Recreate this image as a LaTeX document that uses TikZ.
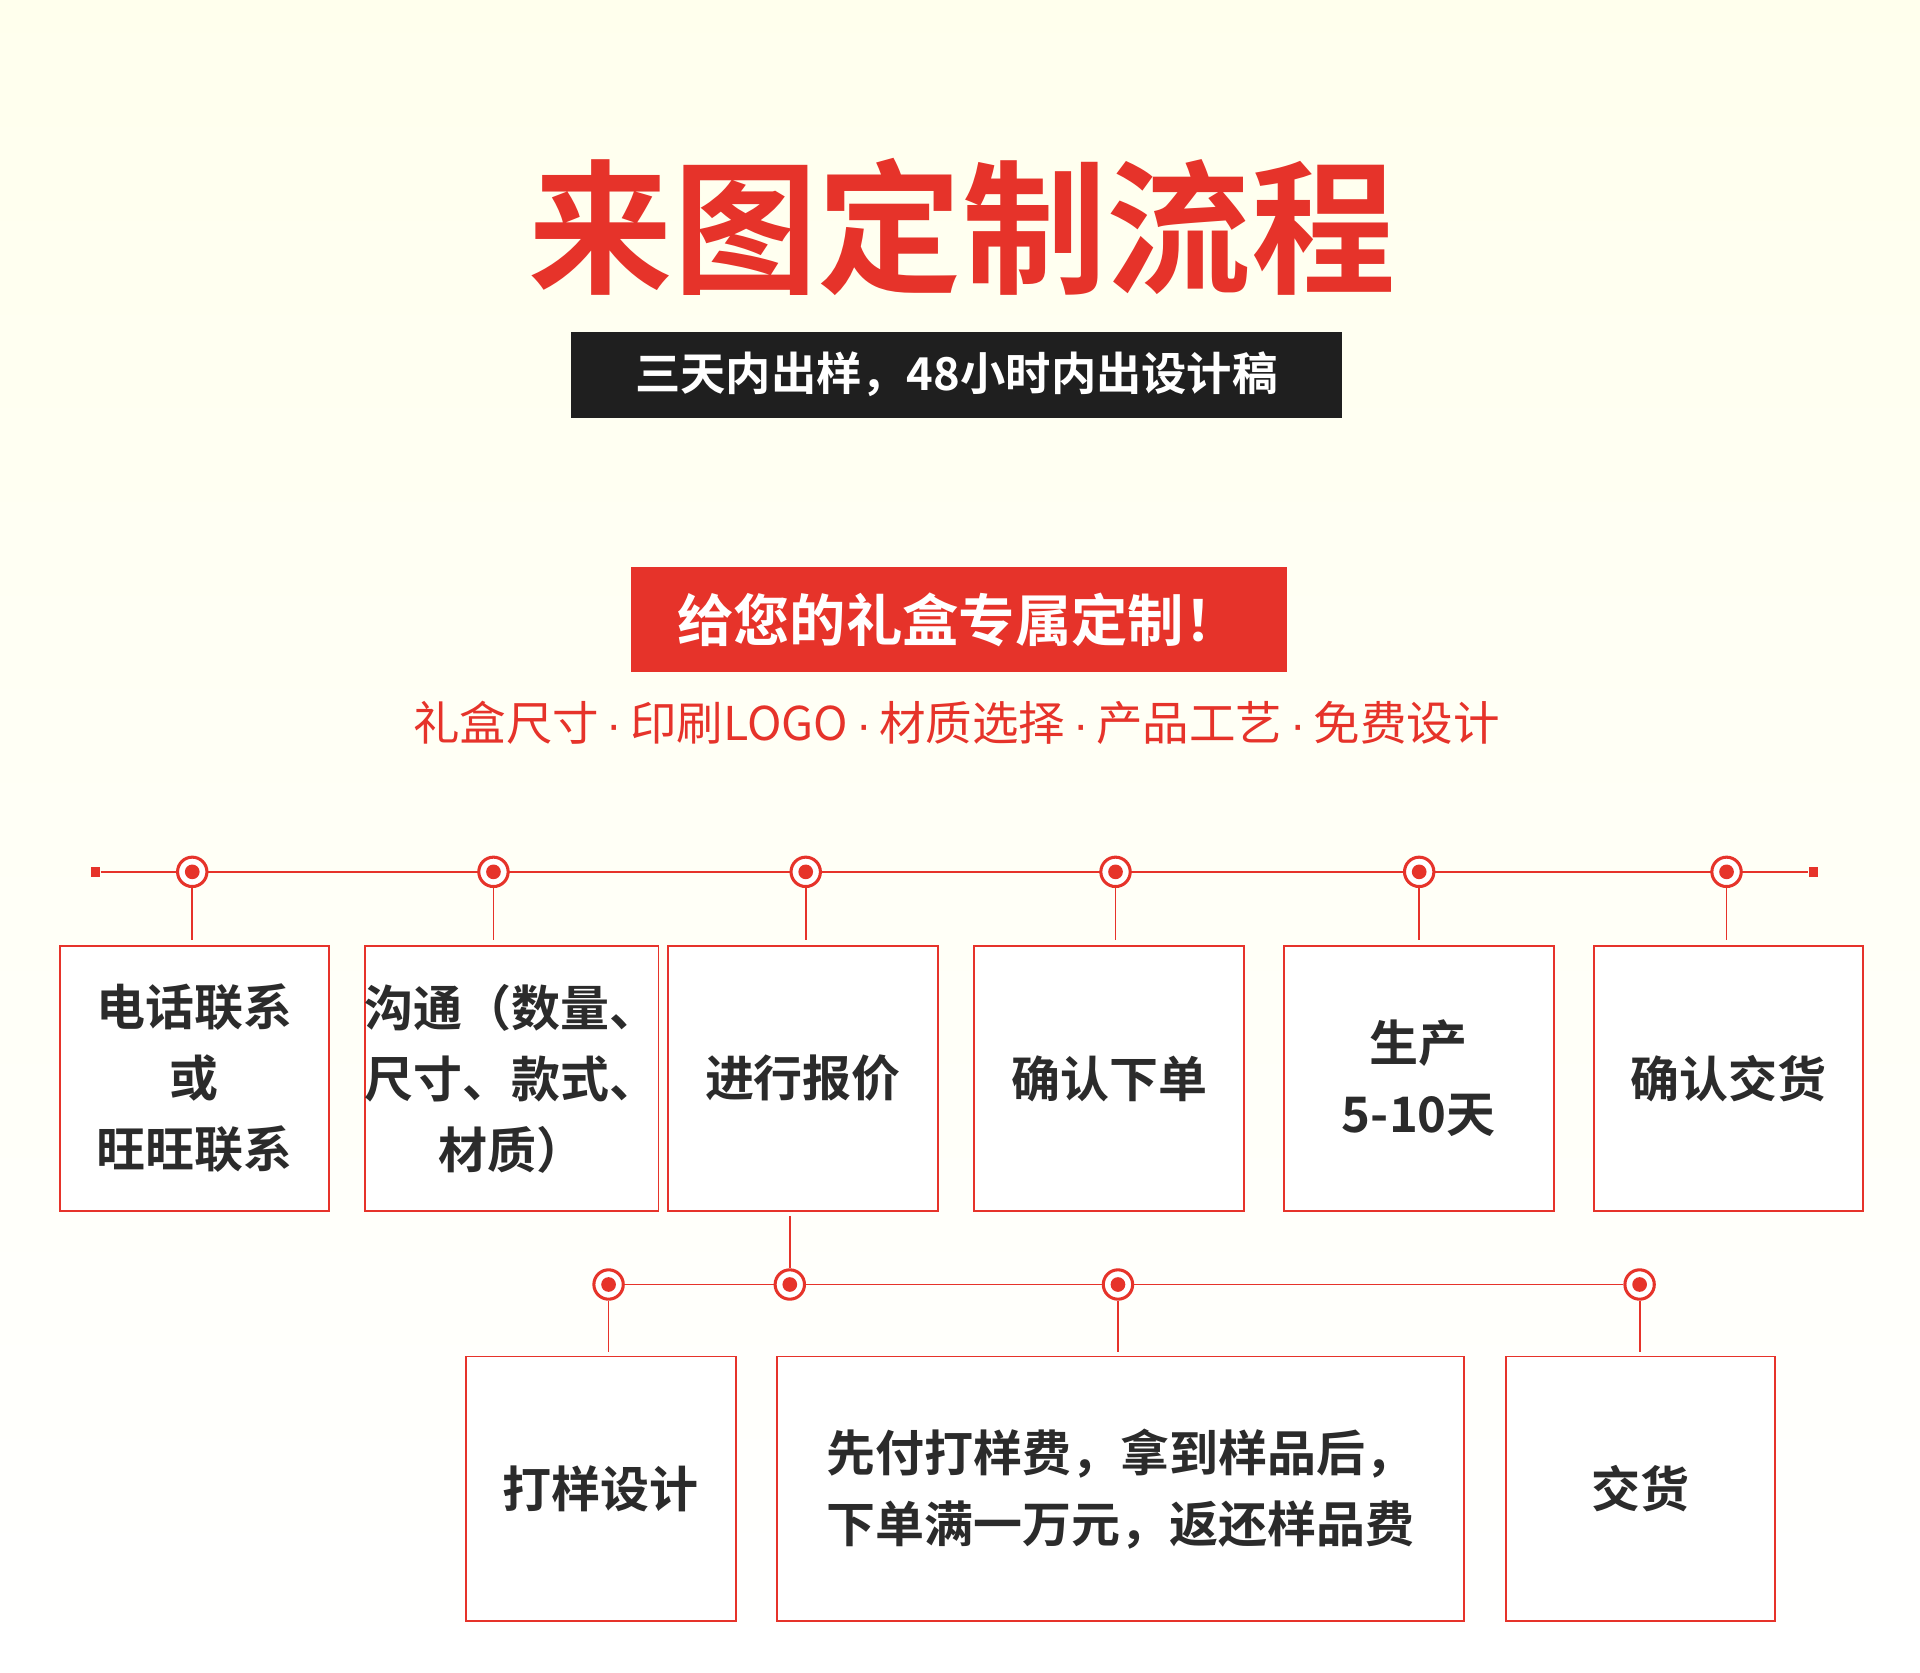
\documentclass[tikz,border=0pt]{standalone}
\usepackage{fontspec}
\newfontfamily\cjk{Noto Sans CJK SC}
\newfontfamily\cjkb{Noto Sans CJK SC Bold}
\newfontfamily\latn{Liberation Sans}
\newcommand{\md}{\,{\latn ·}\,}
\definecolor{myred}{HTML}{E6332A}
\definecolor{txt}{HTML}{2B2B2B}
\begin{document}
\begin{tikzpicture}[x=1pt,y=-1pt,
  box/.style={draw=myred,line width=1.5pt,fill=white,minimum width=220pt,minimum height=216pt,anchor=north west,inner sep=0pt,font=\cjkb\fontsize{40}{58}\selectfont,text=txt,align=center},
  ln/.style={draw=myred,line width=1.5pt},
  dot/.style={circle,draw=myred,line width=2.5pt,fill=white,minimum size=24pt,inner sep=0pt,path picture={\fill[myred] (path picture bounding box.center) circle (6pt);}},
  sq/.style={fill=myred,minimum size=8pt,inner sep=0pt}]
\shade[top color=yellow!7,bottom color=white] (0,0) rectangle (1568,1366);
\useasboundingbox (0,0) rectangle (1568,1366);
\node[text=myred,font=\cjkb\fontsize{118}{120}\selectfont] (title) at (786,185) {来图定制流程};
\node[fill=black!88,minimum width=630pt,minimum height=70pt,text=white,font=\cjkb\fontsize{37}{40}\selectfont] (sub) at (781,306) {三天内出样，48小时内出设计稿};
\node[fill=myred,minimum width=536pt,minimum height=86pt,text=white,font=\cjkb\fontsize{46}{50}\selectfont] (gift) at (783,506) {给您的礼盒专属定制！};
\node[text=myred,font=\cjk\fontsize{38}{40}\selectfont] (feat) at (781,590) {礼盒尺寸\md 印刷LOGO\md 材质选择\md 产品工艺\md 免费设计};
% top timeline
\node[sq] (L) at (78,712) {};
\node[sq] (R) at (1481,712) {};
\draw[ln] (L) -- (R);
\foreach \i/\x/\bx/\t in {1/157/48/{电话联系\\或\\旺旺联系},2/403/297/{沟通（数量、\\尺寸、款式、\\材质）},3/658/545/{进行报价},4/911/795/{确认下单},5/1159/1048/{生产\\5-10天},6/1410/1301/{确认交货}}{
  \node[box] (b\i) at (\bx,772) {\t};
  \node[dot] (c\i) at (\x,712) {};
  \coordinate (e\i) at (\x,768);
  \draw[ln] (c\i) -- (e\i);
}
% bottom timeline
\coordinate (s3) at (645,993);
\node[dot] (d2) at (645,1049) {};
\draw[ln] (s3) -- (d2);
\node[dot] (d1) at (497,1049) {};
\node[dot] (d3) at (913,1049) {};
\node[dot] (d4) at (1339,1049) {};
\draw[ln] (d1) -- (d2) -- (d3) -- (d4);
\node[box] (g1) at (380,1107) {打样设计};
\node[box,minimum width=561pt] (g2) at (634,1107) {先付打样费，拿到样品后，\\下单满一万元，返还样品费};
\node[box] (g3) at (1229,1107) {交货};
\foreach \d/\x in {d1/497,d3/913,d4/1339}{
  \coordinate (f\d) at (\x,1104);
  \draw[ln] (\d) -- (f\d);
}
\end{tikzpicture}
\end{document}
